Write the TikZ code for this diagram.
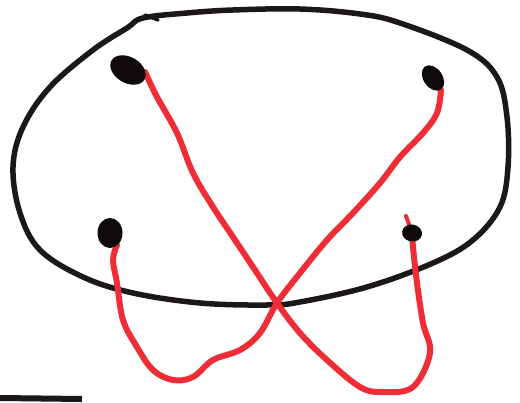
\documentclass[tikz,border=0pt]{standalone}
\begin{document}
\begin{tikzpicture}[x=1pt,y=-1pt,
  ink/.style={line width=5.5pt,draw={rgb,255:red,28;green,24;blue,24},line cap=round,line join=round},
  wire/.style={line width=6pt,draw={rgb,255:red,238;green,45;blue,55},line cap=round,line join=round},
  blob/.style={fill={rgb,255:red,15;green,10;blue,10}}]
\useasboundingbox (0,0) rectangle (520,403);
\fill[white] (0,0) rectangle (520,403);
% outer loop
\draw[ink] plot[smooth cycle,tension=0.6] coordinates {
 (143,18) (187,13) (233,10) (300,9) (360,14) (400,23) (467,50) (497,77) (507,117)
 (508,167) (500,207) (473,240) (433,263) (367,287) (300,302) (267,305) (200,303)
 (133,293) (83,277) (40,250) (20,213) (13,167) (23,127) (50,87) (93,50) (127,28)};
\draw[ink,line width=3.5pt] (145,15) -- (158,20);
% paper edge
\draw[ink,line width=6pt,line cap=butt] (0,398) -- (82,399);
% wires
\draw[wire] plot[smooth,tension=0.6] coordinates {
 (145,72) (157,97) (177,133) (193,173) (213,207) (233,237) (253,267) (277,303)
 (300,333) (327,360) (360,387) (383,392) (413,387) (430,353) (423,323) (417,283) (413,247) (412,232)};
\draw[wire,line width=4pt] (406,216) -- (411,230);
\draw[wire] plot[smooth,tension=0.6] coordinates {
 (441,90) (437,113) (423,133) (400,157) (380,183) (353,213) (327,240) (300,273)
 (277,303) (260,333) (240,350) (213,360) (193,377) (173,380) (153,370) (137,347)
 (123,320) (117,283) (113,260) (117,245)};
% dots
\coordinate (tl) at (128,70);
\coordinate (tr) at (433,78);
\coordinate (bl) at (110,233);
\coordinate (br) at (412,233);
\fill[blob,rotate around={-30:(tl)}] (tl) ellipse (19 and 13);
\fill[blob,rotate around={-55:(tr)}] (tr) ellipse (14 and 9.5);
\fill[blob] (bl) ellipse (12.5 and 15);
\fill[blob,rotate around={-10:(br)}] (br) ellipse (10 and 8.5);
\end{tikzpicture}
\end{document}
